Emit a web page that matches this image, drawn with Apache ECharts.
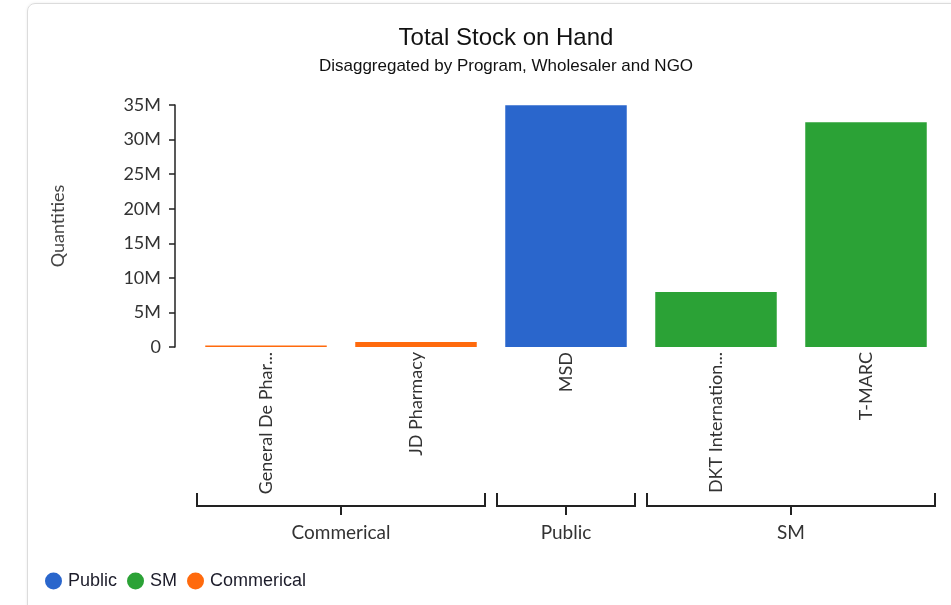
<!DOCTYPE html>
<html>
<head>
<meta charset="utf-8">
<script src="https://cdn.jsdelivr.net/npm/echarts@6/dist/echarts.min.js"></script>
<style>
html,body{margin:0;padding:0;background:#fff;overflow:hidden;}
#card{position:absolute;left:27px;top:3px;width:960px;height:640px;border:1px solid #dcdcdc;border-radius:8px;box-shadow:0 0 3px rgba(0,0,0,0.08);}
#chart{position:absolute;left:0;top:0;width:951px;height:605px;}
</style>
</head>
<body>
<div id="card"></div>
<div id="chart"></div>
<script>
const categories = ['General De Phar...', 'JD Pharmacy', 'MSD', 'DKT Internation...', 'T-MARC'];
const publicValues = [null, null, 34950000, null, null];
const smValues = [null, null, null, 7950000, 32500000];
const commericalValues = [200000, 720000, null, null, null];
const groupNames = ['Commerical', 'Public', 'SM'];
const groupStart = [0, 2, 3];
const groupEnd = [1, 2, 4];
const yTicks = [0, 5e6, 10e6, 15e6, 20e6, 25e6, 30e6, 35e6];

const chart = echarts.init(document.getElementById('chart'), null, {renderer: 'canvas'});
const groupData = groupNames.map((n, i) => [groupStart[i], groupEnd[i], 0, n]);

chart.setOption({
  animation: false,
  backgroundColor: 'transparent',
  title: {
    text: 'Total Stock on Hand',
    subtext: 'Disaggregated by Program, Wholesaler and NGO',
    left: 501,
    textAlign: 'center',
    top: 21,
    itemGap: 8,
    textStyle: {fontFamily: 'Liberation Sans', fontSize: 24, fontWeight: 'normal', color: '#111'},
    subtextStyle: {fontFamily: 'Liberation Sans', fontSize: 17, color: '#111'}
  },
  legend: {
    data: ['Public', 'SM', 'Commerical'],
    left: 40, top: 567,
    icon: 'circle', itemWidth: 17, itemHeight: 17, itemGap: 10,
    textStyle: {fontFamily: 'Liberation Sans', fontSize: 18, color: '#1c1c2a', padding: [0,0,0,1]}
  },
  grid: {left: 191, right: 10, top: 105, bottom: 258, containLabel: false, outerBoundsMode: 'none'},
  xAxis: {
    type: 'category',
    data: categories,
    axisLine: {show: false},
    axisTick: {show: false},
    axisLabel: {rotate: 90, margin: 5, interval: 0, fontFamily: 'Lato', fontSize: 18, color: '#333'}
  },
  yAxis: {
    type: 'value',
    min: 0, max: 35e6, interval: 5e6,
    offset: 16,
    name: 'Quantities',
    nameLocation: 'middle',
    nameGap: 108,
    nameTextStyle: {fontFamily: 'Lato', fontSize: 18, color: '#444'},
    splitLine: {show: false},
    axisLine: {show: true, lineStyle: {color: '#222', width: 1.5}},
    axisTick: {show: true, length: 6, lineStyle: {color: '#222', width: 1.5}},
    axisLabel: {
      margin: 14, fontFamily: 'Lato', fontSize: 18, color: '#333',
      formatter: v => (yTicks.includes(v) ? (v === 0 ? '0' : (v / 1e6) + 'M') : '')
    }
  },
  series: [
    {name: 'Public', type: 'bar', stack: 'all', data: publicValues, barCategoryGap: '19%', itemStyle: {color: '#2a66cc'}},
    {name: 'SM', type: 'bar', stack: 'all', data: smValues, itemStyle: {color: '#2ba236'}},
    {name: 'Commerical', type: 'bar', stack: 'all', data: commericalValues, itemStyle: {color: '#ff6a0d'}},
    {
      name: 'groups', type: 'custom', silent: true, clip: false,
      data: groupData,
      encode: {x: [0, 1], y: 2},
      renderItem: function (params, api) {
        const bw = api.size([1, 0])[0];
        const s = api.value(0), e = api.value(1);
        const x0 = api.coord([s, 0])[0] - bw / 2 + 6;
        const x1 = api.coord([e, 0])[0] + bw / 2 - 6;
        const yBase = api.coord([s, 0])[1];
        const yl = yBase + 159;
        const xm = (x0 + x1) / 2;
        const st = {stroke: '#222', lineWidth: 2, fill: null};
        return {
          type: 'group',
          children: [
            {type: 'polyline', shape: {points: [[x0, yl - 13], [x0, yl], [x1, yl], [x1, yl - 13]]}, style: st},
            {type: 'line', shape: {x1: xm, y1: yl, x2: xm, y2: yl + 9}, style: st},
            {type: 'text', x: xm, y: yl + 27, style: {text: groupNames[params.dataIndex], fontFamily: 'Lato', fontSize: 19, fill: '#333', align: 'center', verticalAlign: 'middle'}}
          ]
        };
      }
    }
  ]
});
</script>
</body>
</html>
